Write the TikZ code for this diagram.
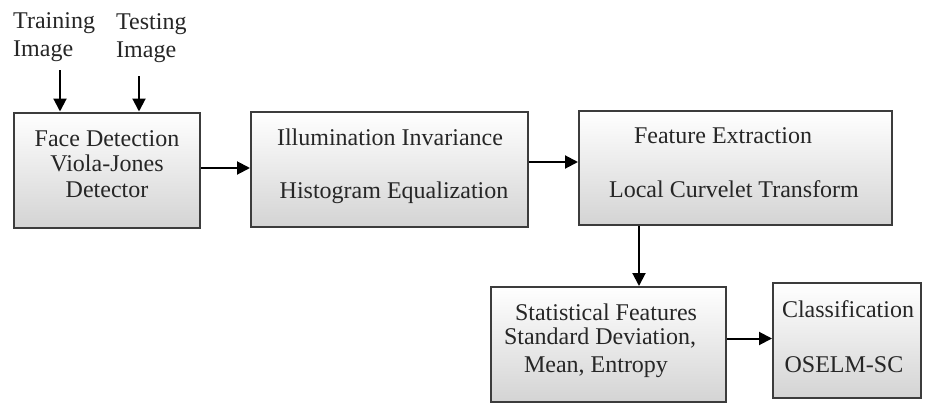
\documentclass[tikz,border=0pt]{standalone}
\usepackage{fontspec}
\setmainfont{Liberation Serif}
\usetikzlibrary{arrows.meta}
\definecolor{edgegray}{HTML}{3C3C3C}
\definecolor{txtgray}{HTML}{262626}
\tikzset{
  box/.style={draw=edgegray, line width=2pt, top color=white, bottom color=black!17, inner sep=0pt},
  lbl/.style={anchor=base, inner sep=0pt, text=txtgray, font=\fontsize{24}{27}\selectfont},
  lbll/.style={lbl, anchor=base west},
  arr/.style={line width=2pt, -{Triangle[length=13pt,width=13pt]}}
}
\begin{document}
\begin{tikzpicture}[x=1pt,y=-1pt]
\useasboundingbox (0,0) rectangle (930,405);
\fill[white] (0,0) rectangle (930,405);
% boxes
\node[box, minimum width=186pt, minimum height=115pt] (b1) at (107,170) {};
\node[box, minimum width=277pt, minimum height=115pt] (b2) at (389.5,169.5) {};
\node[box, minimum width=313pt, minimum height=114pt] (b3) at (735.5,168) {};
\node[box, minimum width=235pt, minimum height=115pt] (b4) at (608.5,344.5) {};
\node[box, minimum width=148pt, minimum height=115pt] (b5) at (847,340.5) {};
% inputs
\node[lbll] (tr1) at (13,28) {Training};
\node[lbll] (tr2) at (13,56) {Image};
\node[lbll] (te1) at (116,29) {Testing};
\node[lbll] (te2) at (116,57) {Image};
\coordinate (tra) at (60,70);
\coordinate (tea) at (139,76);
% texts
\node[lbl] (t11) at (107,146) {Face Detection};
\node[lbl] (t12) at (107,171) {Viola-Jones};
\node[lbl] (t13) at (107,197) {Detector};
\node[lbl] (t21) at (390,145) {Illumination Invariance};
\node[lbl] (t22) at (394,198) {Histogram Equalization};
\node[lbl] (t31) at (723,143) {Feature Extraction};
\node[lbl] (t32) at (734,197) {Local Curvelet Transform};
\node[lbl] (t41) at (606,320) {Statistical Features};
\node[lbl] (t42) at (600,344) {Standard Deviation,};
\node[lbl] (t43) at (596,372) {Mean, Entropy};
\node[lbl] (t51) at (848,317) {Classification};
\node[lbl] (t52) at (844,372) {OSELM-SC};
% connectors
\draw[arr] (tra) -- (tra |- b1.north);
\draw[arr] (tea) -- (tea |- b1.north);
\draw[arr] ([yshift=2pt]b1.east) -- ([yshift=2pt]b1.east -| b2.west);
\draw[arr] ([yshift=7.5pt]b2.east) -- ([yshift=7.5pt]b2.east -| b3.west);
\draw[arr] (639,0 |- b3.south) -- (639,0 |- b4.north);
\draw[arr] ([yshift=6pt]b4.east) -- ([yshift=6pt]b4.east -| b5.west);
\end{tikzpicture}
\end{document}
